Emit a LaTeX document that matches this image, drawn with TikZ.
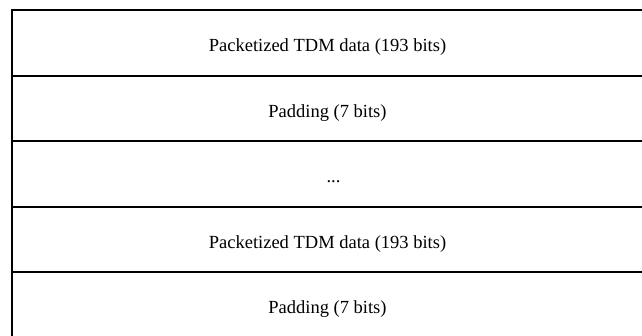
\documentclass[tikz,border=0pt]{standalone}
\usepackage{fontspec}
\setmainfont{Liberation Serif}
\begin{document}
\begin{tikzpicture}[x=1pt,y=-1pt,
  cellline/.style={line width=2pt, draw=black},
  celltext/.style={font=\fontsize{18.5}{22}\selectfont, anchor=base, inner sep=0pt}]
\useasboundingbox (0,0) rectangle (642,335);
\draw[cellline] (12,337.5) -- (12,10) -- (643,10) -- (643,337.5) -- cycle;
\foreach \y in {75.5,141,206.5,272} \draw[cellline] (12,\y) -- (643,\y);
\node[celltext] (r1) at (327.5,51.8) {Packetized TDM data (193 bits)};
\node[celltext] (r2) at (327.5,117.3) {Padding (7 bits)};
\node[celltext] (r3) at (333.5,182.8) {...};
\node[celltext] (r4) at (327.5,248.3) {Packetized TDM data (193 bits)};
\node[celltext] (r5) at (327.5,313.8) {Padding (7 bits)};
\end{tikzpicture}
\end{document}
